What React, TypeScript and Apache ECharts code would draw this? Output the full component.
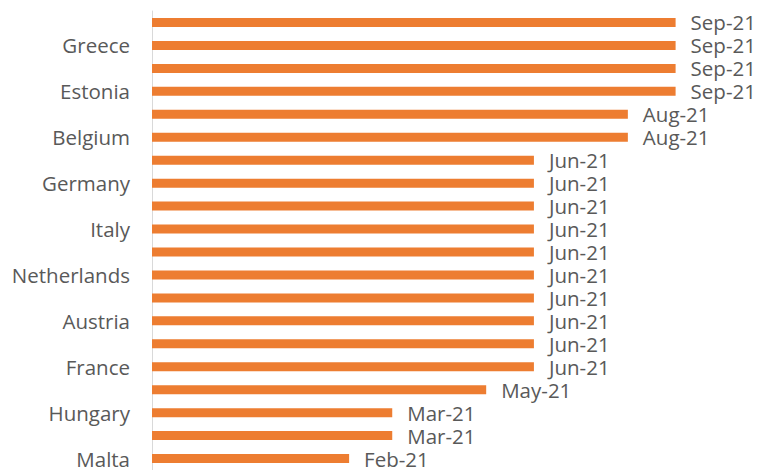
import React, { useEffect, useRef } from "react";
import * as echarts from "echarts";

// Countries, top to bottom (every other one is labelled on the axis)
const countries = [
  "Cyprus", "Greece", "Lithuania", "Estonia", "Latvia", "Belgium",
  "Luxembourg", "Germany", "Portugal", "Italy", "Spain", "Netherlands",
  "Finland", "Austria", "Ireland", "France", "Slovakia", "Hungary",
  "Slovenia", "Malta",
];

// Month reached (first day of month)
const dates = [
  "2021-09-01", "2021-09-01", "2021-09-01", "2021-09-01",
  "2021-08-01", "2021-08-01",
  "2021-06-01", "2021-06-01", "2021-06-01", "2021-06-01", "2021-06-01",
  "2021-06-01", "2021-06-01", "2021-06-01", "2021-06-01", "2021-06-01",
  "2021-05-01", "2021-03-01", "2021-03-01", "2021-02-01",
];

const monthNames = ["Jan", "Feb", "Mar", "Apr", "May", "Jun", "Jul", "Aug", "Sep", "Oct", "Nov", "Dec"];

const axisStart = "2020-09-26";
const axisEnd = "2021-09-11";

function fmt(s: string): string {
  const [y, m] = s.split("-");
  return `${monthNames[parseInt(m, 10) - 1]}-${y.slice(2)}`;
}

export default function App() {
  const ref = useRef<HTMLDivElement>(null);
  useEffect(() => {
    if (!ref.current) return;
    const chart = echarts.init(ref.current, null, { renderer: "svg" });
    const font = "'Open Sans', 'Noto Sans', sans-serif";
    chart.setOption({
      animation: false,
      grid: { left: 152, top: 11, width: 539, height: 460, containLabel: false },
      xAxis: {
        type: "time",
        min: axisStart,
        max: axisEnd,
        show: false,
        splitLine: { show: false },
      },
      yAxis: {
        type: "category",
        data: countries,
        inverse: true,
        axisLine: { show: true, lineStyle: { color: "#d9d9d9", width: 1 } },
        axisTick: { show: false },
        axisLabel: {
          interval: (index: number) => index % 2 === 1,
          color: "#595959",
          fontSize: 20.5,
          fontFamily: font,
          margin: 22,
        },
      },
      series: [
        {
          type: "bar",
          data: dates,
          barWidth: 9,
          clip: true,
          itemStyle: { color: "#ED7D31" },
          label: {
            show: true,
            position: "right",
            distance: 15,
            color: "#595959",
            fontSize: 20.5,
            fontFamily: font,
            formatter: (p: any) => fmt(p.value as string),
          },
        },
      ],
    });
    return () => chart.dispose();
  }, []);
  return (
    <div
      ref={ref}
      style={{ position: "fixed", left: 0, top: 0, width: 759, height: 470, background: "#fff" }}
    />
  );
}
